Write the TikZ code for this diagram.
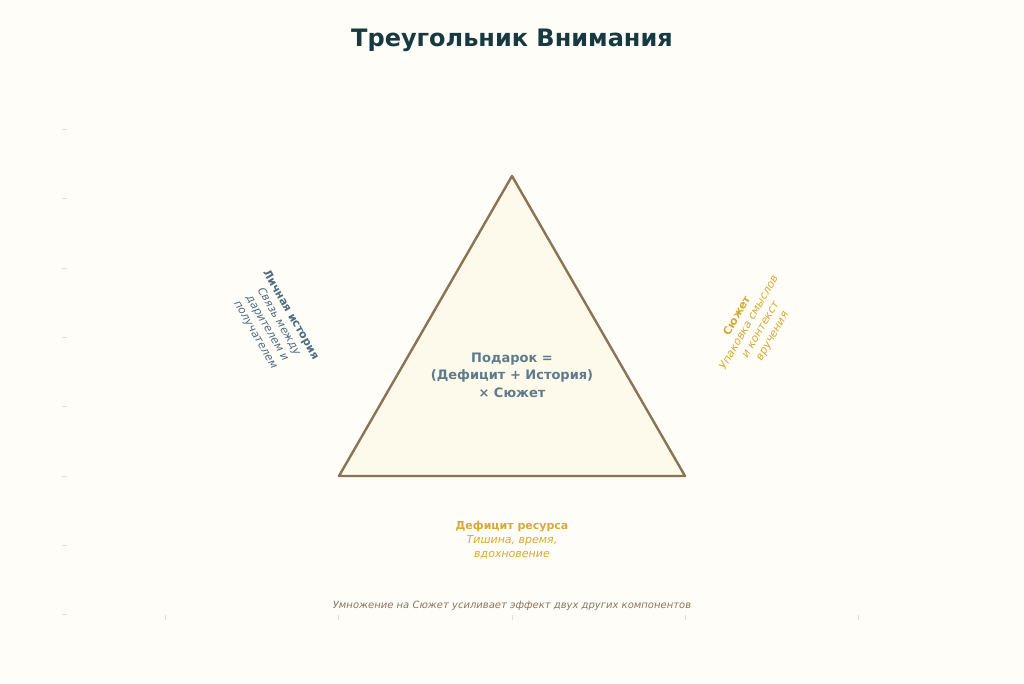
\documentclass[tikz,border=0pt]{standalone}
\usepackage{fontspec}
\setmainfont{DejaVu Sans}
\definecolor{bgc}{HTML}{FFFDF7}
\definecolor{trifill}{HTML}{FEFAEB}
\definecolor{tristroke}{HTML}{8B7355}
\definecolor{titlec}{HTML}{173A42}
\definecolor{centerc}{HTML}{5E7B8C}
\definecolor{leftc}{HTML}{4E6C82}
\definecolor{goldc}{HTML}{D6AA36}
\definecolor{footc}{HTML}{8B7560}
\definecolor{tickc}{HTML}{E2DFD8}
\tikzset{
  lbl/.style={align=center, inner sep=0pt},
  tick/.style={draw=tickc, line width=0.8pt},
}
\begin{document}
\begin{tikzpicture}[x=1pt,y=-1pt]
\fill[bgc] (0,0) rectangle (1024,683);
\useasboundingbox (0,0) rectangle (1024,683);
% faint axis ticks
\foreach \yy in {129,198,268,337,406,476,545,614} \draw[tick] (62,\yy) -- (67,\yy);
\foreach \xx in {165,338,512,685,858} \draw[tick] (\xx,615) -- (\xx,620);
% title
\node[lbl, text=titlec, font=\fontsize{24}{28}\selectfont\bfseries] (title) at (512,40) {Треугольник Внимания};
% triangle
\coordinate (top) at (512,176);
\coordinate (bl) at (339,476);
\coordinate (br) at (685,476);
\draw[draw=tristroke, fill=trifill, line width=2.4pt, line join=round] (top) -- (bl) -- (br) -- cycle;
% center formula
\node[lbl, text=centerc, font=\fontsize{13}{17.5}\selectfont\bfseries] (formula) at (512,375) {Подарок =\\(Дефицит + История)\\× Сюжет};
% left label
\node[lbl, rotate=-60, font=\fontsize{11}{13.5}\selectfont, text=leftc] (hist) at (273,325) {\textbf{Личная история}\\\textit{Связь между}\\\textit{дарителем и}\\\textit{получателем}};
% right label
\node[lbl, rotate=60, font=\fontsize{11}{13.5}\selectfont, text=goldc] (plot) at (755,326) {\textbf{Сюжет}\\\textit{Упаковка смыслов}\\\textit{и контекст}\\\textit{вручения}};
% bottom label
\node[lbl, font=\fontsize{11}{14}\selectfont, text=goldc] (deficit) at (512,540) {\textbf{Дефицит ресурса}\\\textit{Тишина, время,}\\\textit{вдохновение}};
% footer
\node[lbl, font=\fontsize{10}{12}\selectfont\itshape, text=footc] (foot) at (512,606) {Умножение на Сюжет усиливает эффект двух других компонентов};
\end{tikzpicture}
\end{document}
